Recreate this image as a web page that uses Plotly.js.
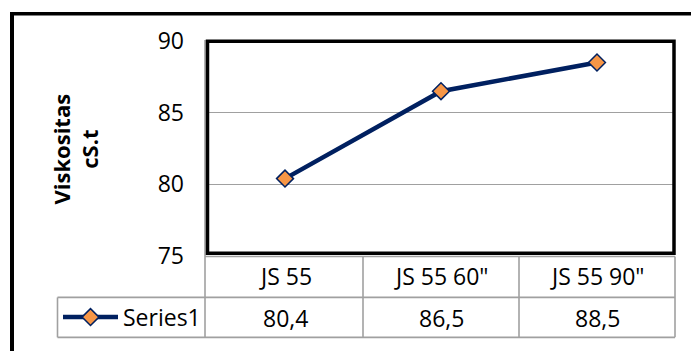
<!DOCTYPE html>
<html>
<head>
<meta charset="utf-8">
<script src="https://cdn.plot.ly/plotly-3.0.1.min.js"></script>
<style>
  html, body { margin: 0; padding: 0; background: #fff; }
  #chart { width: 691px; height: 351px; }
</style>
</head>
<body>
<div id="chart"></div>
<script>
// Viscosity by sample
const categories = ['JS 55', 'JS 55 60"', 'JS 55 90"'];
const values = [80.4, 86.5, 88.5];
const seriesName = 'Series1';
const yTicks = [75, 80, 85, 90];
const yTitle = 'Viskositas<br>cS.t';

// page geometry in pixels
const W = 691, H = 351;
const M = { l: 207, r: 16, t: 41, b: 92 };
const PW = W - M.l - M.r, PH = H - M.t - M.b;
const px = v => (v - M.l) / PW;          // pixel x -> paper x
const py = v => (H - M.b - v) / PH;      // pixel y -> paper y

const FONT = 'Open Sans, Liberation Sans, sans-serif';
const NAVY = '#002060';
const ORANGE = '#F79646';
const GRID = '#A0A0A0';
const fmt = v => v.toFixed(1).replace('.', ',');

const trace = {
  type: 'scatter',
  mode: 'lines+markers',
  name: seriesName,
  x: categories,
  y: values,
  line: { color: NAVY, width: 4.5 },
  marker: { symbol: 'diamond', size: 13, color: ORANGE, line: { color: NAVY, width: 1.5 } },
  hoverinfo: 'x+y'
};

// data table: row/column rules
const rowTop = 259.5, rowMid = 301, rowBot = 341.5;
const tableLeft = 205, legendLeft = 57.5, tableRight = 675;
const gl = (x0, y0, x1, y1) => ({
  type: 'line', xref: 'paper', yref: 'paper',
  x0: px(x0), y0: py(y0), x1: px(x1), y1: py(y1),
  line: { color: GRID, width: 1.6 }, layer: 'above'
});
const shapes = [
  gl(tableLeft, rowTop, tableRight, rowTop),
  gl(legendLeft, rowMid, tableRight, rowMid),
  gl(legendLeft, rowBot, tableRight, rowBot),
  gl(legendLeft, rowMid, legendLeft, rowBot),
  gl(tableLeft, 40, tableLeft, rowBot),
  gl(tableRight, rowTop, tableRight, rowBot)
];
// column separators at category boundaries
for (let k = 1; k < categories.length; k++) {
  const xb = M.l + PW * k / categories.length;
  shapes.push(gl(xb, rowTop, xb, rowBot));
}
// plot area frame
shapes.push({
  type: 'rect', xref: 'paper', yref: 'paper',
  x0: px(207.5), x1: px(674), y0: py(41.3), y1: py(256.3),
  line: { color: '#000', width: 3.5 }, fillcolor: 'rgba(0,0,0,0)', layer: 'above'
});
// chart area border
shapes.push({
  type: 'line', xref: 'paper', yref: 'paper',
  x0: px(12), x1: px(12), y0: py(11.5), y1: py(H + 5),
  line: { color: '#000', width: 4 }, layer: 'above'
});
shapes.push({
  type: 'line', xref: 'paper', yref: 'paper',
  x0: px(10), x1: px(W + 5), y0: py(13.3), y1: py(13.3),
  line: { color: '#000', width: 3.5 }, layer: 'above'
});

const tableFont = { family: FONT, size: 23, color: '#000' };
const annotations = [];
categories.forEach((c, i) => {
  annotations.push({
    xref: 'x', yref: 'paper', x: c, y: py((rowTop + rowMid) / 2 - 0.5),
    text: c, showarrow: false, xanchor: 'center', yanchor: 'middle', font: tableFont
  });
  annotations.push({
    xref: 'x', yref: 'paper', x: c, y: py((rowMid + rowBot) / 2 + 1),
    text: fmt(values[i]), showarrow: false, xanchor: 'center', yanchor: 'middle', font: tableFont
  });
});
annotations.push({
  xref: 'paper', yref: 'paper', x: px(75), y: py(151),
  text: yTitle, textangle: -90, showarrow: false,
  xanchor: 'center', yanchor: 'middle',
  font: { family: FONT, size: 22, color: '#000', weight: 'bold' }
});

const layout = {
  width: W, height: H,
  margin: M,
  paper_bgcolor: '#fff', plot_bgcolor: '#fff',
  showlegend: true,
  legend: {
    x: px(58), y: py(321), xanchor: 'left', yanchor: 'middle',
    bgcolor: 'rgba(0,0,0,0)', borderwidth: 0,
    itemwidth: 55, font: tableFont, itemclick: false, itemdoubleclick: false
  },
  xaxis: {
    type: 'category', range: [-0.5, categories.length - 0.5],
    showticklabels: false, showgrid: false, zeroline: false, showline: false, ticks: ''
  },
  yaxis: {
    range: [yTicks[0], yTicks[yTicks.length - 1]],
    tickvals: yTicks, ticktext: yTicks.map(String),
    showgrid: true, gridcolor: GRID, gridwidth: 1.3,
    zeroline: false, showline: false, ticks: '',
    ticklabelstandoff: 22,
    tickfont: { family: FONT, size: 23, color: '#000' }
  },
  shapes: shapes,
  annotations: annotations,
  hovermode: 'closest'
};

Plotly.newPlot('chart', [trace], layout, { displayModeBar: false, staticPlot: false });
</script>
</body>
</html>
